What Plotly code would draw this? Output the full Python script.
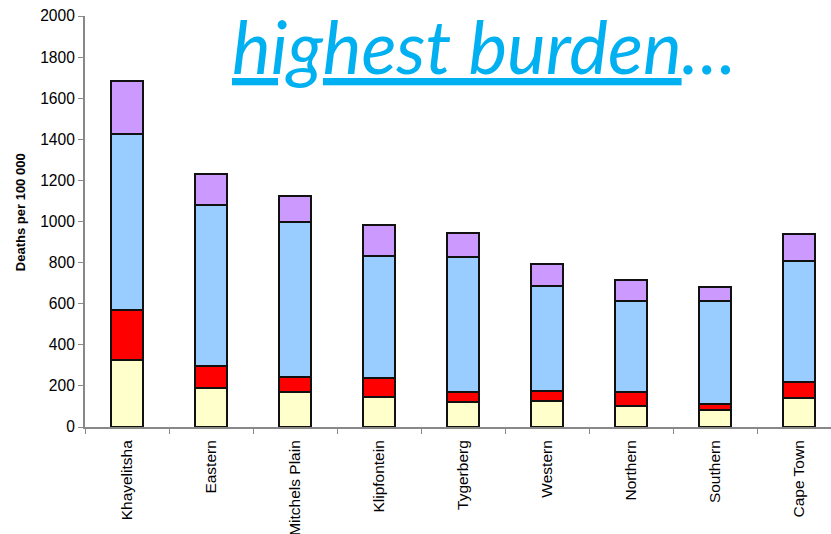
import plotly.graph_objects as go

districts = ["Khayelitsha", "Eastern", "Mitchels Plain", "Klipfontein", "Tygerberg",
             "Western", "Northern", "Southern", "Cape Town"]

# Deaths per 100 000, by cause group (stacked bottom to top)
seg_yellow = [328, 192, 170, 146, 122, 125, 101, 85, 143]
seg_red = [240, 107, 72, 93, 48, 52, 71, 27, 78]
seg_blue = [857, 779, 756, 594, 658, 511, 443, 500, 589]
seg_purple = [260, 152, 125, 150, 115, 106, 101, 70, 128]

y_ticks = list(range(0, 2001, 200))

series = [
    (seg_yellow, "#FFFFCC"),
    (seg_red, "#FF0000"),
    (seg_blue, "#99CCFF"),
    (seg_purple, "#CC99FF"),
]

fig = go.Figure()
for vals, col in series:
    fig.add_trace(go.Bar(
        x=districts, y=vals, width=0.39,
        marker=dict(color=col, line=dict(color="#111111", width=2)),
        showlegend=False,
    ))

fig.update_layout(
    barmode="stack",
    width=831, height=534,
    margin=dict(l=85, r=0, t=16, b=107),
    paper_bgcolor="white", plot_bgcolor="white",
    font=dict(family="Liberation Sans, Arial", size=15.6, color="#000000"),
    xaxis=dict(
        range=[-0.5, 8.38], automargin=False,
        tickangle=-90, tickson="boundaries",
        ticks="outside", ticklen=5, tickcolor="#888888",
        showline=True, linecolor="#888888", linewidth=2,
        showgrid=False, tickfont=dict(size=15.5), ticklabelstandoff=5,
    ),
    yaxis=dict(
        range=[0, 2000], tickvals=y_ticks, automargin=False,
        ticks="outside", ticklen=5, tickcolor="#888888",
        showline=True, linecolor="#888888", linewidth=2,
        showgrid=False, zeroline=False, tickfont=dict(size=15.6),
    ),
    annotations=[
        dict(
            xref="paper", yref="paper", x=0.195, y=1.04,
            xanchor="left", yanchor="top", showarrow=False,
            text="<i><u>highest burden</u>…</i>",
            font=dict(family="Lato", size=73, color="#00B0F0"),
        ),
        dict(
            xref="paper", yref="paper", x=-0.087, y=0.523,
            xanchor="center", yanchor="middle", showarrow=False, textangle=-90,
            text="<b>Deaths per 100 000</b>",
            font=dict(family="Liberation Sans, Arial", size=13, color="#000000"),
        ),
    ],
)

fig.write_html("out.html")
